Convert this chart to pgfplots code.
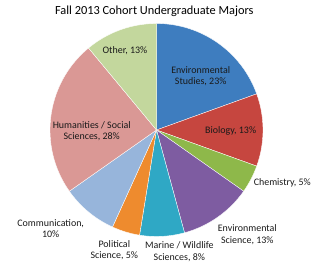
\documentclass[border=0pt]{standalone}
\usepackage{pgfplots}
\pgfplotsset{compat=1.18}
\usepackage{pgfplotstable}
\usepackage{fontspec}
\setmainfont{Carlito}
\definecolor{c1}{HTML}{3E7DBF}
\definecolor{c2}{HTML}{C6463F}
\definecolor{c3}{HTML}{8EB84A}
\definecolor{c4}{HTML}{7E5CA1}
\definecolor{c5}{HTML}{2FA8C5}
\definecolor{c6}{HTML}{EE8B2E}
\definecolor{c7}{HTML}{97B5DB}
\definecolor{c8}{HTML}{DA9895}
\definecolor{c9}{HTML}{C3D79D}
\definecolor{txt}{HTML}{1A1A1A}
\pgfplotstableread{
value color
23 c1
13 c2
5 c3
13 c4
8 c5
5 c6
10 c7
28 c8
13 c9
}\piedata
\begin{document}
\begin{tikzpicture}
\begin{axis}[scale only axis, width=313bp, height=266bp,
  xmin=0, xmax=313, ymin=0, ymax=266, hide axis, clip=false]
\path (axis cs:0,0) rectangle (axis cs:313,266);
\def\total{0}
\pgfplotsforeachungrouped \i in {0,...,8}{%
  \pgfplotstablegetelem{\i}{value}\of\piedata \let\v\pgfplotsretval
  \pgfmathsetmacro\total{\total+\v}%
}
\def\cum{0}
\pgfplotsforeachungrouped \i in {0,...,8}{%
  \pgfplotstablegetelem{\i}{value}\of\piedata \let\v\pgfplotsretval
  \pgfplotstablegetelem{\i}{color}\of\piedata \let\c\pgfplotsretval
  \pgfmathsetmacro\aS{90-\cum/\total*360}%
  \pgfmathsetmacro\cum{\cum+\v}%
  \pgfmathsetmacro\aE{90-\cum/\total*360}%
  \edef\temp{\noexpand\fill[\c, draw=white, line width=0.35pt] (axis cs:156.5,136) -- ++(\aS:106.5bp) arc[start angle=\aS, end angle=\aE, radius=106.5bp] -- cycle;}%
  \temp
}
\tikzset{lab/.style={align=center, inner sep=0pt, text=txt, font=\fontsize{10}{11.6}\selectfont}}
\node[lab] at (axis cs:200.7,190) {Environmental\\Studies, 23\%};
\node[lab] at (axis cs:230.7,135) {Biology, 13\%};
\node[lab] at (axis cs:282.3,83.3) {Chemistry, 5\%};
\node[lab] at (axis cs:247.3,31.3) {Environmental\\Science, 13\%};
\node[lab] at (axis cs:179.3,14.3) {Marine / Wildlife\\Sciences, 8\%};
\node[lab] at (axis cs:114.3,16) {Political\\Science, 5\%};
\node[lab] at (axis cs:50.7,37.3) {Communication,\\10\%};
\node[lab] at (axis cs:91.7,135) {Humanities / Social\\Sciences, 28\%};
\node[lab] at (axis cs:125,215.3) {Other, 13\%};
\node[inner sep=0pt, text=black, font=\fontsize{12.4}{14}\selectfont] at (axis cs:154.3,254.3) {Fall 2013 Cohort Undergraduate Majors};
\end{axis}
\end{tikzpicture}
\end{document}
